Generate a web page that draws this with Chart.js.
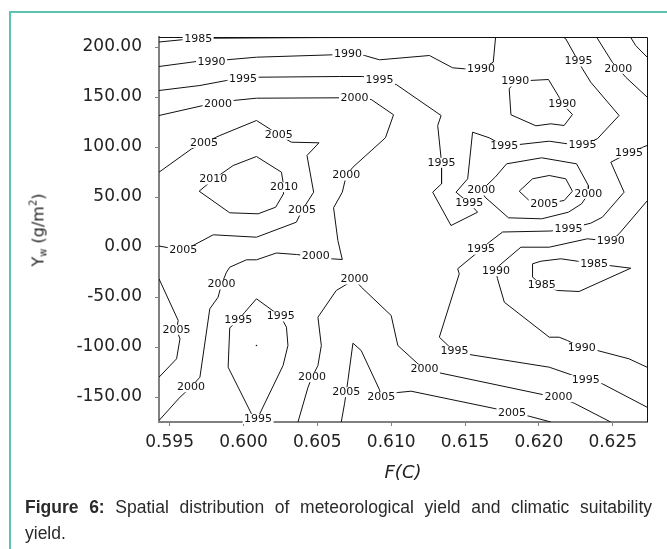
<!DOCTYPE html>
<html>
<head>
<meta charset="utf-8">
<script src="https://cdn.jsdelivr.net/npm/chart.js@4.4.1/dist/chart.umd.min.js"></script>
<style>
  body { margin: 0; background: #fff; overflow: hidden; }
  #wrap { position: relative; width: 667px; height: 549px; }
  #box { position: absolute; left: 9px; top: 11px; right: 0; bottom: 0;
         border-left: 2px solid #5cc3b3; border-top: 2px solid #5cc3b3; }
  canvas { position: absolute; left: 0; top: 0; }
  #ytitle { position: absolute; left: 38px; top: 230px; transform: translate(-50%, -50%) rotate(-90deg);
            font: 16px "DejaVu Sans"; color: #222; white-space: nowrap; }
  #ytitle sub { font-size: 10px; vertical-align: -3px; }
  #ytitle sup { font-size: 10px; vertical-align: 7px; }
  .cap { position: absolute; left: 25px; width: 627px; font: 17.5px/22px "Liberation Sans", Arial, sans-serif;
         color: #2a2a2a; white-space: nowrap; }
  #cap1 { top: 496px; text-align: justify; text-align-last: justify; }
  #cap2 { top: 522px; }
</style>
</head>
<body>
<div id="wrap">
  <div id="box"></div>
  <canvas id="chart" width="667" height="549"></canvas>
  <div id="ytitle">Y<sub>w</sub> (g/m<sup>2</sup>)</div>
  <div class="cap" id="cap1"><b>Figure 6:</b> Spatial distribution of meteorological yield and climatic suitability</div>
  <div class="cap" id="cap2">yield.</div>
</div>
<script>
// --- DATA (x = F(C), y = Yw in g/m2) ---
const X_TICKS = [0.595, 0.600, 0.605, 0.610, 0.615, 0.620, 0.625];
const Y_TICKS = [200, 150, 100, 50, 0, -50, -100, -150];

const c1985Top = [[0.59428,205],[0.59581,207.2],[0.59693,207.5],[0.59806,208.8],[0.6050,209.4],[0.6135,209.6]];
const c1990Top = [[0.59428,180.5],[0.59682,185.5],[0.59784,185.2],[0.59885,187.2],[0.60088,189.8],[0.60605,192.2],
  [0.60707,192.5],[0.60820,191.5],[0.60921,187.2],[0.61259,191.5],[0.61416,179.2],[0.61495,178.2],[0.61608,177.5],
  [0.61691,184.8],[0.61707,210]];
const c1995Main = [[0.59428,156.5],[0.59705,161.5],[0.59885,166.5],[0.59997,168.2],[0.60110,169.8],[0.60651,170.5],
  [0.60808,170.5],[0.60921,166.5],[0.61034,162.5],[0.61338,131.5],[0.61315,121.5],[0.61341,84.2],[0.61341,63.2],
  [0.61281,54.8],[0.61405,21.5],[0.61585,34.8],[0.61529,43.8],[0.61439,54.8],[0.61518,68.2],[0.61551,114.8],
  [0.61664,109.2],[0.61766,100.8],[0.61867,102.5],[0.62070,105.8],[0.62193,103.2],[0.62295,101.5],[0.62396,108.2],
  [0.62543,131.5],[0.62351,164.8],[0.62295,178.2],[0.62268,185.5],[0.62182,208.2],[0.62165,210]];
const c2000Main = [[0.59428,131.5],[0.59727,141.5],[0.59828,143.2],[0.59930,146.5],[0.60088,148.8],[0.60651,149.2],
  [0.60752,149.2],[0.60865,147.5],[0.61016,132.2],[0.60961,109.2],[0.60741,79.8],[0.60696,71.5],[0.60669,54.8],
  [0.60610,39.2],[0.60639,6.5],[0.60669,-12.5],[0.60595,-11.8],[0.60489,-9.5],[0.60358,-7.5],[0.60223,-6],
  [0.60088,-12.8],[0.60020,-12.8],[0.59907,-20.2],[0.59885,-25.2],[0.59851,-37.5],[0.59828,-50.2],[0.59772,-61.8],
  [0.59705,-130.2],[0.59644,-140.2],[0.59570,-150.2],[0.59428,-173.5]];
const c2005Left = [[0.59428,74.8],[0.59649,98.2],[0.59732,104.2],[0.59840,111.5],[0.60088,126.5],[0.60166,119.2],
  [0.60239,112.2],[0.60324,104.8],[0.60511,104.2],[0.60430,91.5],[0.60475,54.8],[0.60396,36.5],[0.60358,24.8],
  [0.60088,9.8],[0.59795,12.2],[0.59659,1.5],[0.59592,-3.5],[0.59428,1]];
const c2010Loop = [[0.59700,55.8],[0.59795,67.5],[0.59930,81.5],[0.60088,90.5],[0.60257,74.8],[0.60268,64.8],
  [0.60274,59.8],[0.60268,53.2],[0.60218,39.8],[0.60099,33.2],[0.59907,34.2],[0.59700,55.8]];
const c1990Loop = [[0.61799,158.2],[0.61840,165.5],[0.61934,166.5],[0.62065,167.5],[0.62137,149.8],[0.62159,143.2],
  [0.62227,132.5],[0.62171,121.5],[0.62081,123.2],[0.61980,121.2],[0.61811,132.2],[0.61799,158.2]];
const c2000TopRight = [[0.6239,210],[0.62497,184.8],[0.62538,178.2],[0.62588,169.8],[0.62732,150]];
const c2005Corner = [[0.6262,210],[0.62655,201.5],[0.62732,190]];
const c1995Right = [[0.62732,101.5],[0.62610,94.2],[0.62487,84.8],[0.62577,54.8],[0.62430,29.8],[0.62351,23.8],
  [0.62200,18.2],[0.62081,16],[0.61754,15],[0.61664,4.8],[0.61608,-2.5],[0.61450,-21.8],[0.61461,-26.8],
  [0.61326,-90.2],[0.61428,-104.5],[0.61529,-107.5],[0.62070,-120.2],[0.62318,-132.8],[0.62430,-136.8],[0.62732,-160.2]];
const c2000Loop = [[0.61782,83.2],[0.62019,89.2],[0.62255,83.2],[0.62335,61.5],[0.62335,53.2],[0.62289,43.2],
  [0.62200,34.8],[0.62019,28.2],[0.61794,29.2],[0.61636,49.8],[0.61610,56.5],[0.61704,69.8],[0.61782,83.2]];
const c2005Loop = [[0.61867,55.8],[0.61957,68.2],[0.62070,71.5],[0.62182,68.2],[0.62227,55.8],[0.62171,46.5],
  [0.62036,43.2],[0.61934,46.5],[0.61867,55.8]];
const c1990Right = [[0.62732,46],[0.62543,13.2],[0.62487,5.8],[0.62328,8.2],[0.62070,-0.2],[0.61878,-0.2],
  [0.61732,-18.5],[0.61709,-24.2],[0.61720,-31.8],[0.61766,-55.2],[0.62070,-90.2],[0.62137,-90.2],[0.62193,-93.5],
  [0.62291,-100.8],[0.62396,-103.5],[0.62610,-111.8],[0.62732,-120.2]];
const c1985Loop = [[0.61957,-16.8],[0.62014,-14.2],[0.62149,-11.8],[0.62261,-14.2],[0.62374,-16.8],[0.62475,-18.5],
  [0.62622,-21.2],[0.62272,-44.5],[0.62126,-43.5],[0.62020,-37.8],[0.61957,-30.2],[0.61957,-16.8]];
const c2000Bottom = [[0.60369,-175],[0.60437,-140.2],[0.60464,-130.2],[0.60504,-118.5],[0.60527,-98.5],
  [0.60504,-70.2],[0.60628,-43.5],[0.60752,-32.5],[0.60797,-40],[0.61000,-68.5],[0.61045,-98.5],[0.61169,-115.2],
  [0.61225,-122.5],[0.61338,-126.2],[0.62024,-147.5],[0.62132,-150.2],[0.62239,-156.2],[0.62486,-175]];
const c2005Bottom = [[0.60662,-175],[0.60684,-156.8],[0.60696,-145.2],[0.60707,-133.5],[0.60741,-96.2],
  [0.60797,-103.5],[0.60921,-142.8],[0.60932,-150.2],[0.61045,-145.5],[0.61135,-144.2],[0.61709,-161.8],
  [0.61818,-165.8],[0.61934,-169.2],[0.62081,-175]];
const c2005LowLeft = [[0.59428,-31.8],[0.59558,-73.5],[0.59547,-82.8],[0.59570,-91.8],[0.59547,-111.8],[0.59428,-130.2]];
const c1995Loop = [[0.60099,-175],[0.60054,-166.8],[0.59896,-120.2],[0.59907,-80.8],[0.59964,-73.5],[0.60009,-65.2],
  [0.60088,-51.8],[0.60166,-60.2],[0.60252,-69.5],[0.60291,-80.2],[0.60301,-98.5],[0.60268,-118.5],[0.60110,-166.8],
  [0.60099,-175]];
const cDot = [[0.60088,-98.5]];

// contour labels: [text, x, y]
const contourLabels = [
  ['1985',0.59693,207.5],
  ['1990',0.59784,185.2],['1990',0.60707,192.5],['1990',0.61608,177.5],
  ['1995',0.59997,168.2],['1995',0.60921,166.5],['1995',0.61341,84.2],['1995',0.61529,43.8],
  ['1995',0.61766,100.8],['1995',0.62295,101.5],['1995',0.62268,185.5],
  ['2000',0.59828,143.2],['2000',0.60752,149.2],['2000',0.60696,71.5],['2000',0.60489,-9.5],
  ['2000',0.59851,-37.5],['2000',0.59644,-140.2],
  ['2005',0.59732,104.2],['2005',0.60239,112.2],['2005',0.60396,36.5],['2005',0.59592,-3.5],
  ['2010',0.59795,67.5],['2010',0.60274,59.8],
  ['1990',0.61840,165.5],['1990',0.62159,143.2],
  ['2000',0.62538,178.2],
  ['1995',0.62610,94.2],['1995',0.62200,18.2],['1995',0.61608,-2.5],['1995',0.61428,-104.5],['1995',0.62318,-132.8],
  ['2000',0.62335,53.2],['2000',0.61610,56.5],
  ['2005',0.62036,43.2],
  ['1990',0.62487,5.8],['1990',0.61709,-24.2],['1990',0.62291,-100.8],
  ['1985',0.62374,-16.8],['1985',0.62020,-37.8],
  ['2000',0.60464,-130.2],['2000',0.60752,-32.5],['2000',0.61225,-122.5],['2000',0.62132,-150.2],
  ['2005',0.60696,-145.2],['2005',0.60932,-150.2],['2005',0.61818,-165.8],
  ['2005',0.59547,-82.8],
  ['1995',0.59964,-73.5],['1995',0.60252,-69.5],['1995',0.60099,-172]
];

const contours = [c1985Top, c1990Top, c1995Main, c2000Main, c2005Left, c2010Loop, c1990Loop, c2000TopRight,
  c2005Corner, c1995Right, c2000Loop, c2005Loop, c1990Right, c1985Loop, c2000Bottom, c2005Bottom,
  c2005LowLeft, c1995Loop];

// top/right frame + inline contour labels
const contourLabelPlugin = {
  id: 'contourLabels',
  afterDatasetsDraw(chart) {
    const { ctx, chartArea: a, scales: { x, y } } = chart;
    ctx.save();
    ctx.strokeStyle = '#111';
    ctx.lineWidth = 1;
    ctx.beginPath();
    ctx.moveTo(a.left, a.top + 0.5);
    ctx.lineTo(a.right + 0.5, a.top + 0.5);
    ctx.lineTo(a.right + 0.5, a.bottom);
    ctx.stroke();

    ctx.font = '11px "DejaVu Sans"';
    ctx.textAlign = 'center';
    ctx.textBaseline = 'middle';
    contourLabels.forEach(([t, vx, vy]) => {
      const px = x.getPixelForValue(vx);
      const py = y.getPixelForValue(vy);
      const w = ctx.measureText(t).width + 3;
      ctx.fillStyle = '#fff';
      ctx.fillRect(px - w / 2, py - 5, w, 10);
      ctx.fillStyle = '#111';
      ctx.fillText(t, px, py);
    });
    ctx.restore();
  }
};

const datasets = contours.map(pts => ({
  data: pts.map(([x, y]) => ({ x, y })),
  showLine: true,
  borderColor: '#111',
  borderWidth: 1,
  pointRadius: 0,
  tension: 0,
  fill: false
}));
datasets.push({
  data: cDot.map(([x, y]) => ({ x, y })),
  showLine: false,
  pointRadius: 0.8,
  pointBackgroundColor: '#111',
  pointBorderWidth: 0
});

const tickFont = { family: 'DejaVu Sans', size: 17 };

new Chart(document.getElementById('chart'), {
  type: 'scatter',
  data: { datasets },
  options: {
    responsive: false,
    animation: false,
    layout: { padding: { top: 37, right: 20, bottom: 65, left: 0 } },
    plugins: { legend: { display: false }, tooltip: { enabled: false } },
    scales: {
      x: {
        type: 'linear',
        min: 0.59428,
        max: 0.62732,
        afterBuildTicks: s => { s.ticks = X_TICKS.map(v => ({ value: v })); },
        afterFit: s => { s.height = 62; },
        ticks: { callback: v => Number(v).toFixed(3), font: tickFont, color: '#222', padding: 6, maxRotation: 0 },
        grid: { drawOnChartArea: false, tickLength: 4, color: '#808080' },
        border: { color: '#808080', width: 2 },
        title: { display: true, text: 'F(C)', color: '#222', padding: 0,
                 font: { family: 'DejaVu Sans', size: 18, style: 'italic' } }
      },
      y: {
        type: 'linear',
        min: -175,
        max: 210,
        afterBuildTicks: s => { s.ticks = Y_TICKS.map(v => ({ value: v })); },
        afterFit: s => { s.width = 159; },
        ticks: { callback: v => Number(v).toFixed(2), font: tickFont, color: '#222', padding: 13 },
        grid: { drawOnChartArea: false, tickLength: 4, color: '#808080' },
        border: { color: '#808080', width: 2 }
      }
    }
  },
  plugins: [contourLabelPlugin]
});
</script>
</body>
</html>
